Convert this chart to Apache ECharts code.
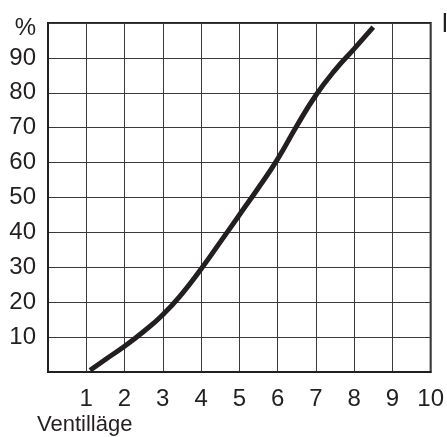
<!DOCTYPE html>
<html>
<head>
<meta charset="utf-8">
<script src="https://cdn.jsdelivr.net/npm/echarts@6/dist/echarts.min.js"></script>
<style>html,body{margin:0;padding:0;background:#fff;}#c{width:447px;height:437px;}</style>
</head>
<body>
<div id="c"></div>
<script>
var xValues = [1.1, 1.5, 2, 2.5, 3, 3.5, 4, 4.5, 5, 5.5, 6, 6.5, 7, 7.5, 8, 8.5];
var yValues = [0.5, 3.6, 7.4, 11.6, 16.4, 22.4, 29.5, 37.2, 45, 52.8, 61, 70.5, 79.3, 86.5, 92.6, 98.8];
var xTicks = ['', '1', '2', '3', '4', '5', '6', '7', '8', '9', '10'];
var yTicks = ['', '10', '20', '30', '40', '50', '60', '70', '80', '90', '%'];
var xTitle = 'Ventilläge';

var FONT = '"Liberation Sans", Arial, sans-serif';
var FS = 24;
var chart = echarts.init(document.getElementById('c'), null, {renderer: 'canvas'});
var pts = xValues.map(function (x, i) { return [x, yValues[i]]; });
chart.setOption({
  animation: false,
  backgroundColor: '#fff',
  grid: {left: 48, right: 14, top: 23, bottom: 65, show: true, borderColor: '#231f20', borderWidth: 2, backgroundColor: 'transparent'},
  title: {text: xTitle, left: 37, top: 414, padding: 0, textStyle: {fontFamily: FONT, fontSize: 22, fontWeight: 'normal', color: '#231f20'}},
  graphic: [
    {type: 'text', left: 442, top: 12, style: {text: 'l', font: '26px ' + FONT, fill: '#231f20'}},
    {type: 'text', right: 447 - 36, top: 16, style: {text: yTicks[10], font: FS + 'px ' + FONT, fill: '#231f20'}}
  ],
  xAxis: {
    type: 'value', min: 0, max: 10, interval: 1,
    axisLine: {show: true, lineStyle: {color: '#231f20', width: 2}},
    axisTick: {show: false},
    splitLine: {show: true, lineStyle: {color: '#3a3a3a', width: 1}},
    axisLabel: {margin: 15, fontFamily: FONT, fontSize: FS, color: '#231f20', showMinLabel: false,
      formatter: function (v) { return xTicks[Math.round(v)]; }}
  },
  yAxis: {
    type: 'value', min: 0, max: 100, interval: 10,
    axisLine: {show: true, lineStyle: {color: '#231f20', width: 2}},
    axisTick: {show: false},
    splitLine: {show: true, lineStyle: {color: '#3a3a3a', width: 1}},
    axisLabel: {margin: 12, fontFamily: FONT, fontSize: FS, color: '#231f20', showMinLabel: false, showMaxLabel: false,
      formatter: function (v) { var t = yTicks[Math.round(v / 10)]; return t === '%' ? '' : t; }}
  },
  series: [{
    type: 'line', data: pts, smooth: 0.5, symbol: 'none',
    lineStyle: {color: '#231f20', width: 5, cap: 'butt'}
  }]
});
</script>
</body>
</html>
